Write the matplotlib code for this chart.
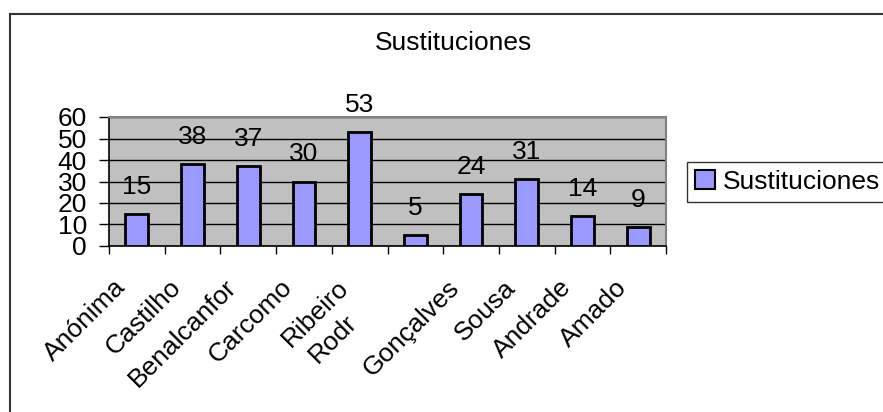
import matplotlib
matplotlib.use("Agg")
import matplotlib.pyplot as plt
from matplotlib.lines import Line2D
from matplotlib.patches import Rectangle
from matplotlib.transforms import ScaledTranslation
import numpy as np

categories = ["Anónima", "Castilho", "Benalcanfor", "Carcomo", "Ribeiro", "Rodr",
              "Gonçalves", "Sousa", "Andrade", "Amado"]
values = [15, 38, 37, 30, 53, 5, 24, 31, 14, 9]
title = "Sustituciones"
series_name = "Sustituciones"
yticks = [0, 10, 20, 30, 40, 50, 60]

plt.rcParams['font.family'] = ['Liberation Sans', 'DejaVu Sans']
FS = 19

fig = plt.figure(figsize=(8.83, 4.12), dpi=100)
W, H = 883, 412

# outer chart border (top and left visible)
fig.add_artist(Line2D([9.5 / W, 1.0], [1 - 14 / H, 1 - 14 / H], color="#333333", lw=1.5))
fig.add_artist(Line2D([9.5 / W, 9.5 / W], [0, 1 - 14 / H], color="#333333", lw=1.5))

ax = fig.add_axes([109 / W, 1 - 246 / H, (666 - 109) / W, (246 - 117) / H])
ax.set_facecolor("#C0C0C0")
x = np.arange(len(categories))
bars = ax.bar(x, values, width=0.41, color="#9999FF", edgecolor="black", linewidth=2,
              zorder=3, label=series_name)
ax.set_xlim(-0.5, len(categories) - 0.5)
ax.set_ylim(0, 60)
ax.set_yticks(yticks)
ax.set_yticklabels([str(t) for t in yticks], fontsize=FS)
ax.yaxis.grid(True, color="black", linewidth=1, zorder=1)
ax.set_axisbelow(True)

for xi, v in zip(x, values):
    ax.annotate(str(v), (xi, v), xytext=(0, 19.5), textcoords="offset points",
                ha="center", va="center", fontsize=FS, zorder=5)

ax.set_xticks(x)
ax.set_xticklabels(categories, fontsize=FS, rotation=45, ha="right",
                   rotation_mode="anchor")
ax.tick_params(axis="x", which="major", length=0, pad=21)
for i, lab in enumerate(ax.get_xticklabels()):
    dx, dy = -17 / 72, 0
    if i == 5:
        dx, dy = -51 / 72, -25 / 72
    lab.set_transform(lab.get_transform() + ScaledTranslation(dx, dy, fig.dpi_scale_trans))
ax.set_xticks(np.arange(-0.5, len(categories)), minor=True)
ax.tick_params(axis="x", which="minor", length=6, width=1, color="black", direction="out")
ax.tick_params(axis="y", length=7, width=1, color="black", pad=9, direction="out")

for s in ["top", "right"]:
    ax.spines[s].set_color("#808080")
    ax.spines[s].set_linewidth(1.5)
for s in ["left", "bottom"]:
    ax.spines[s].set_color("black")
    ax.spines[s].set_linewidth(1.2)

fig.text(453 / W, 1 - 43 / H, title, fontsize=FS, ha="center", va="center")

# legend
leg = fig.legend(handles=[Rectangle((0, 0), 1, 1, facecolor="#9999FF", edgecolor="black", lw=1.5)],
                 labels=[series_name], loc="upper left",
                 bbox_to_anchor=(687 / W, 1 - 162 / H), fontsize=FS, frameon=True,
                 fancybox=False, edgecolor="black", handlelength=0.75, handleheight=0.75,
                 handletextpad=0.3, borderpad=0.3, borderaxespad=0)
leg.get_frame().set_linewidth(1)

fig.savefig("out.png", dpi=100)
